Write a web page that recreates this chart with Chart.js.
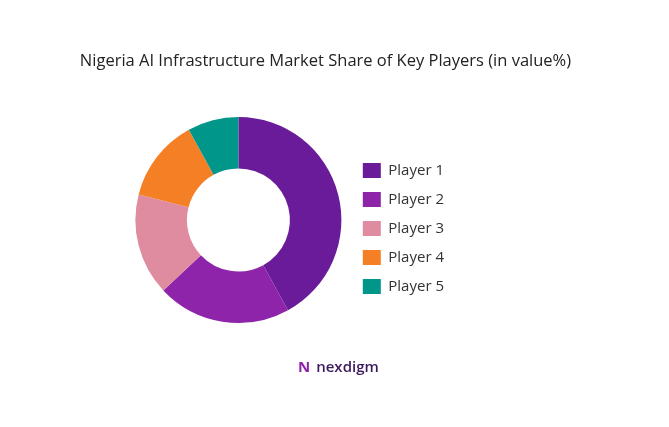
<!DOCTYPE html>
<html>
<head>
<meta charset="utf-8">
<script src="https://cdn.jsdelivr.net/npm/chart.js@4"></script>
<style>
  body { margin: 0; background: #fff; }
  #wrap { position: relative; width: 669px; height: 427px; }
  #title { position: absolute; left: 0; width: 651px; top: 48px; text-align: center; font-family: "Open Sans", sans-serif; font-size: 16.5px; color: #222; }
  #logo { position: absolute; left: 298px; top: 356px; font-family: "Open Sans", sans-serif; font-size: 15px; font-weight: 600; color: #3a1a5c; }
  #logo span { color: #8e24aa; font-weight: 700; margin-right: 6px; }
</style>
</head>
<body>
<div id="wrap">
  <canvas id="c" width="669" height="427"></canvas>
  <div id="title">Nigeria AI Infrastructure Market Share of Key Players (in value%)</div>
  <div id="logo"><span>N</span>nexdigm</div>
</div>
<script>
const labels = ["Player 1", "Player 2", "Player 3", "Player 4", "Player 5"];
const shares = [42, 21, 16, 13, 8];
const colors = ["#6a1b9a", "#8e24aa", "#e08ca0", "#f47f25", "#00968a"];

new Chart(document.getElementById("c").getContext("2d"), {
    type: 'doughnut',
    data: {
        labels: labels,
        datasets: [{
            data: shares,
            backgroundColor: colors,
            borderWidth: 0
        }]
    },
    options: {
        responsive: false,
        animation: false,
        cutout: '50%',
        layout: { padding: { left: 128, right: 215, top: 117, bottom: 104 } },
        plugins: {
            legend: {
                position: 'right',
                // empty title only to nudge the items down a bit
                title: { display: true, text: ' ', font: { size: 1 }, padding: 8 },
                labels: {
                    boxWidth: 18, boxHeight: 15, padding: 14,
                    color: '#333',
                    font: { family: 'Open Sans', size: 15 }
                }
            },
            tooltip: { enabled: false }
        }
    }
});
</script>
</body>
</html>
